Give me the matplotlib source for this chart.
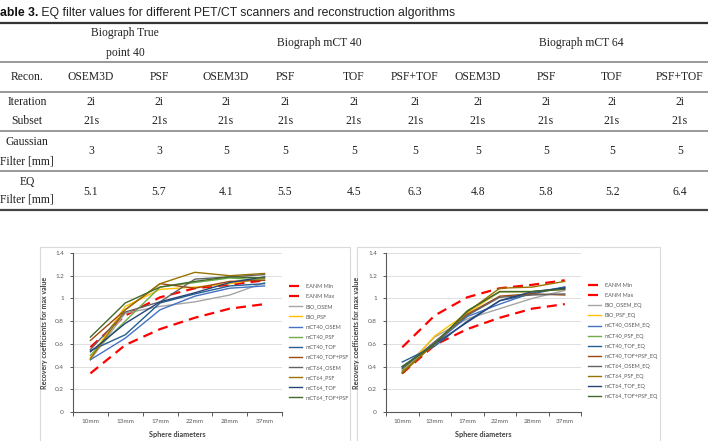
import numpy as np
import matplotlib.pyplot as plt
from matplotlib.patches import Rectangle

# ---- table data ----
title_bold = "able 3."
title_rest = " EQ filter values for different PET/CT scanners and reconstruction algorithms"
scanners = ["Biograph mCT 40", "Biograph mCT 64"]
row_names = ["Recon.", "Iteration", "Subset"]
recon = ["OSEM3D", "PSF", "OSEM3D", "PSF", "TOF", "PSF+TOF", "OSEM3D", "PSF", "TOF", "PSF+TOF"]
iteration = ["2i"] * 10
subset = ["21s"] * 10
gaussian = [3, 3, 5, 5, 5, 5, 5, 5, 5, 5]
eq_filter = [5.1, 5.7, 4.1, 5.5, 4.5, 6.3, 4.8, 5.8, 5.2, 6.4]

# ---- chart data ----
sizes = ["10mm", "13mm", "17mm", "22mm", "28mm", "37mm"]
eanm_min = [0.34, 0.59, 0.73, 0.83, 0.91, 0.95]
eanm_max = [0.57, 0.85, 1.01, 1.09, 1.12, 1.16]

names = ["BIO_OSEM", "BIO_PSF", "mCT40_OSEM", "mCT40_PSF", "mCT40_TOF", "mCT40_TOF+PSF",
         "mCT64_OSEM", "mCT64_PSF", "mCT64_TOF", "mCT64_TOF+PSF"]
names_eq = ["BIO_OSEM_EQ", "BIO_PSF_EQ", "mCT40_OSEM_EQ", "mCT40_PSF_EQ", "mCT40_TOF_EQ",
            "mCT40_TOF+PSF_EQ", "mCT64_OSEM_EQ", "mCT64_PSF_EQ", "mCT64_TOF_EQ", "mCT64_TOF+PSF_EQ"]

rc_max = [
    [0.46, 0.87, 0.93, 0.97, 1.03, 1.14],   # BIO_OSEM
    [0.48, 0.93, 1.08, 1.10, 1.13, 1.18],   # BIO_PSF
    [0.46, 0.65, 0.90, 1.02, 1.09, 1.11],   # mCT40_OSEM
    [0.50, 0.80, 1.10, 1.14, 1.18, 1.16],   # mCT40_PSF
    [0.54, 0.68, 0.96, 1.04, 1.11, 1.13],   # mCT40_TOF
    [0.63, 0.90, 1.13, 1.09, 1.15, 1.16],   # mCT40_TOF+PSF
    [0.55, 0.88, 0.97, 1.17, 1.19, 1.21],   # mCT64_OSEM
    [0.47, 0.90, 1.13, 1.23, 1.20, 1.22],   # mCT64_PSF
    [0.53, 0.78, 0.97, 1.05, 1.14, 1.19],   # mCT64_TOF
    [0.66, 0.96, 1.10, 1.15, 1.19, 1.18],   # mCT64_TOF+PSF
]
rc_max_eq = [
    [0.37, 0.66, 0.82, 0.91, 1.00, 1.07],
    [0.35, 0.67, 0.87, 1.06, 1.06, 1.08],
    [0.39, 0.60, 0.84, 0.95, 1.05, 1.10],
    [0.36, 0.60, 0.89, 1.06, 1.06, 1.09],
    [0.44, 0.58, 0.80, 0.98, 1.04, 1.10],
    [0.34, 0.61, 0.86, 1.02, 1.04, 1.03],
    [0.38, 0.62, 0.85, 1.01, 1.03, 1.04],
    [0.35, 0.60, 0.88, 1.09, 1.10, 1.15],
    [0.40, 0.60, 0.79, 0.98, 1.06, 1.09],
    [0.40, 0.60, 0.89, 1.06, 1.06, 1.08],
]
colors = ["#A5A5A5", "#FFC000", "#4472C4", "#70AD47", "#255E91", "#9E480E",
          "#636363", "#997300", "#264478", "#43682B"]

W, H = 708, 441
fig = plt.figure(figsize=(W / 100, H / 100), dpi=100)

# =========================
# Table (pixel coordinates)
# =========================
tab = fig.add_axes([0, 0, 1, 1])
tab.set_xlim(0, W)
tab.set_ylim(H, 0)
tab.axis("off")

serif = dict(family="Liberation Serif", fontsize=8.4, color="#222222", ha="center", va="center")
t1 = tab.text(0, 13, title_bold, family="Liberation Sans", fontsize=8.8, weight="bold",
              color="#111111", va="center", ha="left")
tab.annotate(title_rest, xy=(1, 0.5), xycoords=t1, va="center", ha="left",
             family="Liberation Sans", fontsize=8.8, color="#222222")

for y, lw, c in [(23, 1.6, "#333333"), (62, 1.2, "#888888"), (92, 1.2, "#888888"),
                 (131, 1.2, "#888888"), (171, 1.2, "#888888"), (210, 1.6, "#444444")]:
    tab.plot([0, W], [y, y], color=c, lw=lw, solid_capstyle="butt")

cols = [27, 91, 159, 226, 285, 354, 415, 478, 546, 612, 680]
tab.text(125, 33, "Biograph True", **serif)
tab.text(125, 53, "point 40", **serif)
tab.text(319, 43, scanners[0], **serif)
tab.text(581, 43, scanners[1], **serif)

tab.text(cols[0], 77, row_names[0], **serif)
tab.text(cols[0], 102, row_names[1], **serif)
tab.text(cols[0], 121, row_names[2], **serif)
tab.text(cols[0], 142, "Gaussian", **serif)
tab.text(cols[0], 161, "Filter [mm]", **serif)
tab.text(cols[0], 182, "EQ", **serif)
tab.text(cols[0], 200, "Filter [mm]", **serif)
for i in range(10):
    x = cols[i + 1]
    tab.text(x, 77, recon[i], **serif)
    tab.text(x, 102, iteration[i], **serif)
    tab.text(x, 121, subset[i], **serif)
    tab.text(x, 151, str(gaussian[i]), **serif)
    tab.text(x, 192, f"{eq_filter[i]:.1f}", **serif)

# chart frames
tab.add_patch(Rectangle((40, 247), 310, 220, fill=False, ec="#D9D9D9", lw=0.8))
tab.add_patch(Rectangle((357, 247), 303, 220, fill=False, ec="#D9D9D9", lw=0.8))

# =========================
# Charts
# =========================
plt.rcParams["font.family"] = ["Lato", "DejaVu Sans"]


def draw_chart(left, right, series, labels, leg_x, leg_y, ylab_x):
    ax = fig.add_axes([left / W, 1 - 412 / H, (right - left) / W, (412 - 253) / H])
    x = np.arange(len(sizes)) + 0.5
    ax.plot(x, eanm_min, color="#FF0000", lw=1.6, dashes=(4.5, 2.8), label="EANM Min")
    ax.plot(x, eanm_max, color="#FF0000", lw=1.6, dashes=(4.5, 2.8), label="EANM Max")
    for vals, lab, c in zip(series, labels, colors):
        ax.plot(x, vals, color=c, lw=1.0, label=lab)
    ax.set_xlim(0, 6)
    ax.set_ylim(0, 1.4)
    yt = np.round(np.arange(0, 1.41, 0.2), 1)
    ax.set_yticks(yt)
    ax.set_yticklabels([f"{v:g}" for v in yt])
    ax.set_xticks(range(7))
    ax.set_xticklabels([])
    ax.set_xticks(x, minor=True)
    ax.set_xticklabels(sizes, minor=True)
    ax.tick_params(axis="x", which="major", length=3, width=0.7, color="#595959")
    ax.tick_params(axis="x", which="minor", length=0, pad=5, labelsize=4.6, labelcolor="#595959")
    ax.tick_params(axis="y", length=2.5, width=0.7, color="#595959", pad=4,
                   labelsize=4.6, labelcolor="#595959")
    ax.yaxis.grid(True, color="#D9D9D9", lw=0.6)
    ax.set_axisbelow(True)
    for s in ["top", "right"]:
        ax.spines[s].set_visible(False)
    for s in ["left", "bottom"]:
        ax.spines[s].set_color("#595959")
        ax.spines[s].set_linewidth(0.8)
    ax.set_xlabel("Sphere diameters", fontsize=5.2, weight="bold", color="#404040", labelpad=5)
    ax.set_ylabel("Recovery coefficients for max value", fontsize=5.0, weight="bold",
                  color="#404040")
    ax.yaxis.set_label_coords((ylab_x - left) / (right - left), 0.5)
    h, l = ax.get_legend_handles_labels()
    fig.legend(h, l, loc="upper left", bbox_to_anchor=(leg_x / W, 1 - leg_y / H),
               frameon=False, fontsize=4.0, labelcolor="#595959", handlelength=2.4,
               handletextpad=0.6, labelspacing=0.92, borderpad=0, borderaxespad=0)
    return ax


draw_chart(73, 282, rc_max, names, 289, 284, 48)
draw_chart(386, 581, rc_max_eq, names_eq, 588, 283, 360)

fig.savefig("out.png", dpi=100)
